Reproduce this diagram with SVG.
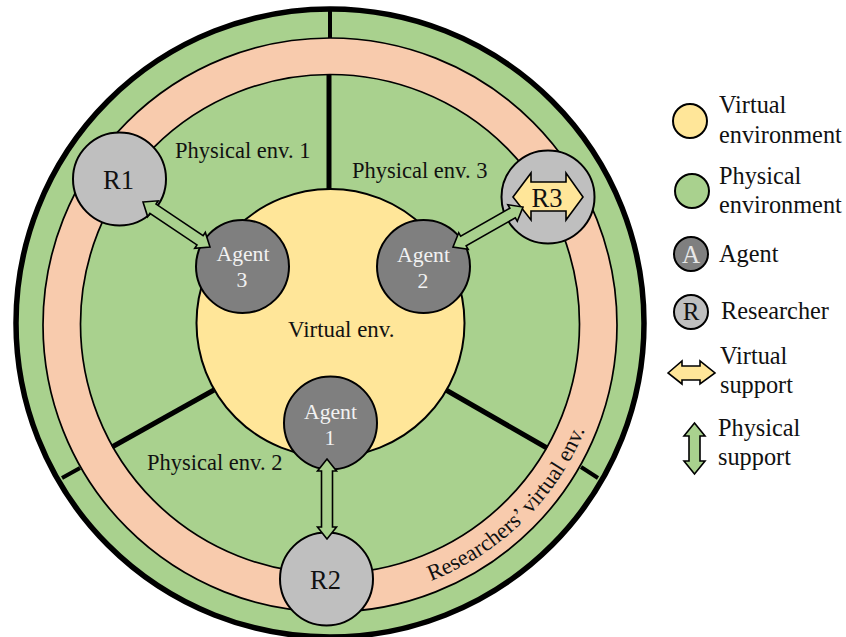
<svg xmlns="http://www.w3.org/2000/svg" width="846" height="637" viewBox="0 0 846 637">
<style>
text{font-family:"Liberation Serif","Times New Roman",serif;fill:#111}
.lbl{font-size:22.5px}
.leg{font-size:24.3px}
.big{font-size:26.5px;text-anchor:middle}
.ag{font-size:21.7px;text-anchor:middle;fill:#f2f2f2}
.n{stroke:#000;stroke-width:2}
.t{stroke:#000;stroke-width:1.7}
.g{fill:#a9d18e}.y{fill:#ffe699}.p{fill:#f8cbad}.r{fill:#bfbfbf}.a{fill:#7f7f7f}
.arr{stroke:#000;stroke-width:1.6;stroke-linejoin:miter}
.d1{stroke:#000;stroke-width:5}
.d2{stroke:#000;stroke-width:4}
</style>
<defs><path id="arc" d="M431,581 A275,275 0 0 0 590,417"/></defs>
<g id="environment">
<circle cx="330" cy="323" r="314" class="g" stroke="#000" stroke-width="5.500"/>
<line class="d2" x1="330" y1="11" x2="330" y2="39"/>
<line class="d2" x1="598" y1="478" x2="581" y2="467"/>
<line class="d2" x1="62" y1="478" x2="80" y2="468"/>
<circle cx="330" cy="325" r="287" class="p t"/>
<circle cx="330" cy="324" r="249.500" class="g t"/>
<line class="d1" x1="329" y1="75" x2="329" y2="190"/>
<line class="d1" x1="446" y1="390" x2="547" y2="448"/>
<line class="d1" x1="214" y1="390" x2="112" y2="447"/>
<text class="lbl" x="175" y="158">Physical env. 1</text>
<text class="lbl" x="352" y="178">Physical env. 3</text>
<text class="lbl" x="147" y="470">Physical env. 2</text>
<text class="lbl"><textPath href="#arc">Researchers’ virtual env.</textPath></text>
</g>
<g id="virtual-env">
<circle cx="330.500" cy="323" r="134" class="y n"/>
<text class="lbl" x="288" y="337" style="font-size:22.9px">Virtual env.</text>
</g>
<g id="agent-3"><circle cx="242.500" cy="266.500" r="46.500" class="a n"/><text class="ag" x="243" y="261">Agent</text><text class="ag" x="242" y="287">3</text></g>
<g id="agent-2"><circle cx="423.500" cy="266.500" r="46.500" class="a n"/><text class="ag" x="423.500" y="262">Agent</text><text class="ag" x="423" y="288">2</text></g>
<g id="agent-1"><circle cx="330.500" cy="423" r="46.500" class="a n"/><text class="ag" x="330.500" y="419">Agent</text><text class="ag" x="330" y="445">1</text></g>
<g id="r1"><circle cx="119.500" cy="179" r="46.500" class="r n"/><text class="big" x="118.500" y="189">R1</text></g>
<g id="r2"><circle cx="326.500" cy="579" r="46.500" class="r n"/><text class="big" x="325.500" y="589">R2</text></g>
<g id="r3"><circle cx="548" cy="197" r="46.500" class="r n"/>
<polygon class="y arr" points="513,197 531,173 531,182 566,182 566,173 583,197 566,220 566,211 531,211 531,220"/>
<text class="big" x="547" y="207">R3</text></g>
<g id="connectors">
<polygon class="g arr" transform="translate(143,202) rotate(33.9)" points="0,0 12,-9.5 12,-5.5 68.7,-5.5 68.7,-9.5 80.7,0 68.7,9.5 68.7,5.5 12,5.5 12,9.5"/>
<polygon class="g arr" transform="translate(453,247) rotate(-29.7)" points="0,0 12,-9.5 12,-5.5 68.6,-5.5 68.6,-9.5 80.6,0 68.6,9.5 68.6,5.5 12,5.5 12,9.5"/>
<polygon class="g arr" transform="translate(327,459) rotate(90)" points="0,0 12,-9.5 12,-5.5 68,-5.5 68,-9.5 80,0 68,9.5 68,5.5 12,5.5 12,9.5"/>
</g>
<g id="legend">
<g id="leg-virtual"><circle cx="690" cy="121" r="17" class="y n"/><text class="leg" x="719" y="113">Virtual</text><text class="leg" x="719" y="143">environment</text></g>
<g id="leg-physical"><circle cx="692" cy="191" r="17" class="g n"/><text class="leg" x="719" y="184">Physical</text><text class="leg" x="719" y="213">environment</text></g>
<g id="leg-agent"><circle cx="691" cy="254" r="17" class="a n"/><text x="691" y="263" font-size="25" text-anchor="middle" style="fill:#e8e8e8">A</text><text class="leg" x="719" y="262">Agent</text></g>
<g id="leg-researcher"><circle cx="691" cy="312" r="17" class="r n"/><text x="691" y="320" font-size="25" text-anchor="middle">R</text><text class="leg" x="721" y="319">Researcher</text></g>
<g id="leg-vsupport"><polygon class="y arr" points="668,373 682,361 682,366 700,366 700,361 715,373 700,384 700,380 682,380 682,384"/><text class="leg" x="720" y="364">Virtual</text><text class="leg" x="720" y="393">support</text></g>
<g id="leg-psupport"><polygon class="g arr" points="694.500,423 705,436 700,436 700,461 705,461 694.500,474 684,461 689,461 689,436 684,436"/><text class="leg" x="718" y="436">Physical</text><text class="leg" x="718" y="465">support</text></g>
</g>
</svg>
